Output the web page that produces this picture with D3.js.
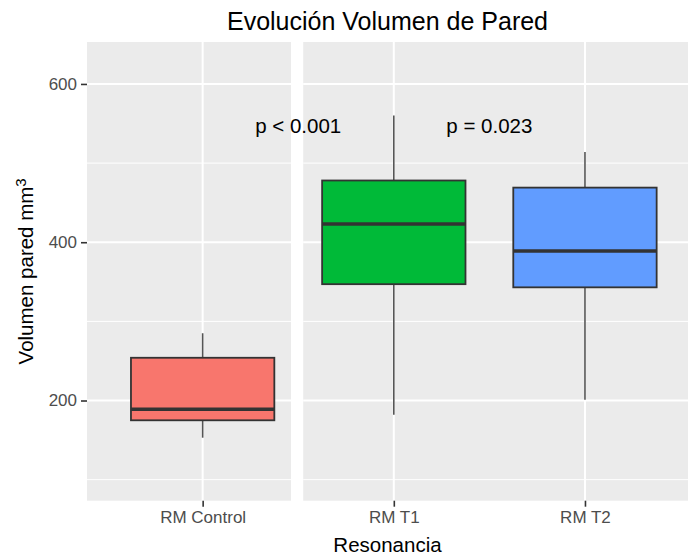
<!DOCTYPE html>
<html>
<head>
<meta charset="utf-8">
<script src="https://cdn.jsdelivr.net/npm/d3@7"></script>
<style>
  html, body { margin: 0; padding: 0; background: #ffffff; }
  svg { display: block; }
  text { font-family: "Liberation Sans", Arial, sans-serif; }
</style>
</head>
<body>
<svg id="chart" width="688" height="557"></svg>
<script>
// Wall volume per resonance study (boxplot summaries)
const categories  = ["RM Control", "RM T1", "RM T2"];
const facetOf     = [0, 1, 1];
const whiskerLow  = [153, 182, 201];
const q1          = [175, 347, 343];
const medians     = [189, 423, 389];
const q3          = [254, 478, 469];
const whiskerHigh = [285, 560, 514];
const fills       = ["#F8766D", "#00BA38", "#619CFF"];

// p-value annotations, placed between groups
const pLabels = ["p < 0.001", "p = 0.023"];
const pAt     = [1.5, 2.5];
const pValueY = [547, 547];

const yMajor = [200, 400, 600];
const yMinor = [100, 300, 500];

const svg = d3.select("#chart");

const panelTop = 42, panelBottom = 500.7;
const x = d3.scaleLinear().domain([0.395, 3.539]).range([87, 688]);
const y = d3.scaleLinear().domain([73.4, 653]).range([panelBottom, panelTop]);

// facet panels in category units
const panels = [[0.395, 1.462], [1.526, 3.539]];

const g = svg.append("g");

panels.forEach((p, pi) => {
  const x0 = x(p[0]), x1 = x(p[1]);
  const pg = g.append("g");
  pg.append("rect").attr("x", x0).attr("y", panelTop)
    .attr("width", x1 - x0).attr("height", panelBottom - panelTop).attr("fill", "#EBEBEB");
  yMinor.forEach(v => pg.append("line")
    .attr("x1", x0).attr("x2", x1).attr("y1", y(v)).attr("y2", y(v))
    .attr("stroke", "#ffffff").attr("stroke-width", 1));
  yMajor.forEach(v => pg.append("line")
    .attr("x1", x0).attr("x2", x1).attr("y1", y(v)).attr("y2", y(v))
    .attr("stroke", "#ffffff").attr("stroke-width", 2));
  categories.forEach((c, i) => {
    if (facetOf[i] !== pi) return;
    pg.append("line").attr("x1", x(i + 1)).attr("x2", x(i + 1))
      .attr("y1", panelTop).attr("y2", panelBottom)
      .attr("stroke", "#ffffff").attr("stroke-width", 2);
  });
});

// boxes
const boxW = 0.75;
categories.forEach((c, i) => {
  const cx = x(i + 1);
  const hw = (x(boxW) - x(0)) / 2;
  const bg = g.append("g");
  bg.append("line").attr("x1", cx).attr("x2", cx)
    .attr("y1", y(whiskerHigh[i])).attr("y2", y(q3[i]))
    .attr("stroke", "#555555").attr("stroke-width", 1.6);
  bg.append("line").attr("x1", cx).attr("x2", cx)
    .attr("y1", y(q1[i])).attr("y2", y(whiskerLow[i]))
    .attr("stroke", "#555555").attr("stroke-width", 1.6);
  bg.append("rect").attr("x", cx - hw).attr("y", y(q3[i]))
    .attr("width", 2 * hw).attr("height", y(q1[i]) - y(q3[i]))
    .attr("fill", fills[i]).attr("stroke", "#333333").attr("stroke-width", 1.8);
  bg.append("line").attr("x1", cx - hw).attr("x2", cx + hw)
    .attr("y1", y(medians[i])).attr("y2", y(medians[i]))
    .attr("stroke", "#333333").attr("stroke-width", 3.5);
});

// p-value labels
pLabels.forEach((t, i) => {
  g.append("text").attr("x", x(pAt[i])).attr("y", y(pValueY[i]))
    .attr("dy", "0.35em").attr("text-anchor", "middle")
    .attr("font-size", 20.5).attr("fill", "#000000").text(t);
});

// y axis
const yAxis = d3.axisLeft(y).tickValues(yMajor).tickSize(6).tickPadding(4);
const ya = svg.append("g").attr("transform", `translate(${x(0.395)},0)`).call(yAxis);
ya.select(".domain").remove();
ya.selectAll(".tick line").attr("stroke", "#333333").attr("stroke-width", 1.6);
ya.selectAll(".tick text").attr("fill", "#4D4D4D").attr("font-size", 17)
  .attr("font-family", "Liberation Sans, Arial, sans-serif");

// x axis
const xAxis = d3.axisBottom(x).tickValues([1, 2, 3])
  .tickFormat(d => categories[d - 1]).tickSize(6).tickPadding(4);
const xa = svg.append("g").attr("transform", `translate(0,${panelBottom})`).call(xAxis);
xa.select(".domain").remove();
xa.selectAll(".tick line").attr("stroke", "#333333").attr("stroke-width", 1.6);
xa.selectAll(".tick text").attr("fill", "#4D4D4D").attr("font-size", 17)
  .attr("font-family", "Liberation Sans, Arial, sans-serif");

// titles
const midX = (x(0.395) + 688) / 2;
svg.append("text").attr("x", midX).attr("y", 30).attr("text-anchor", "middle")
  .attr("font-size", 25).attr("fill", "#000000").text("Evolución Volumen de Pared");
svg.append("text").attr("x", midX).attr("y", 552).attr("text-anchor", "middle")
  .attr("font-size", 20.5).attr("fill", "#000000").text("Resonancia");

const yt = svg.append("text")
  .attr("transform", `translate(33,${(panelTop + panelBottom) / 2}) rotate(-90)`)
  .attr("text-anchor", "middle").attr("font-size", 20.5).attr("fill", "#000000");
yt.append("tspan").text("Volumen pared mm");
yt.append("tspan").attr("dy", "-0.45em").attr("font-size", 15).text("3");
</script>
</body>
</html>
